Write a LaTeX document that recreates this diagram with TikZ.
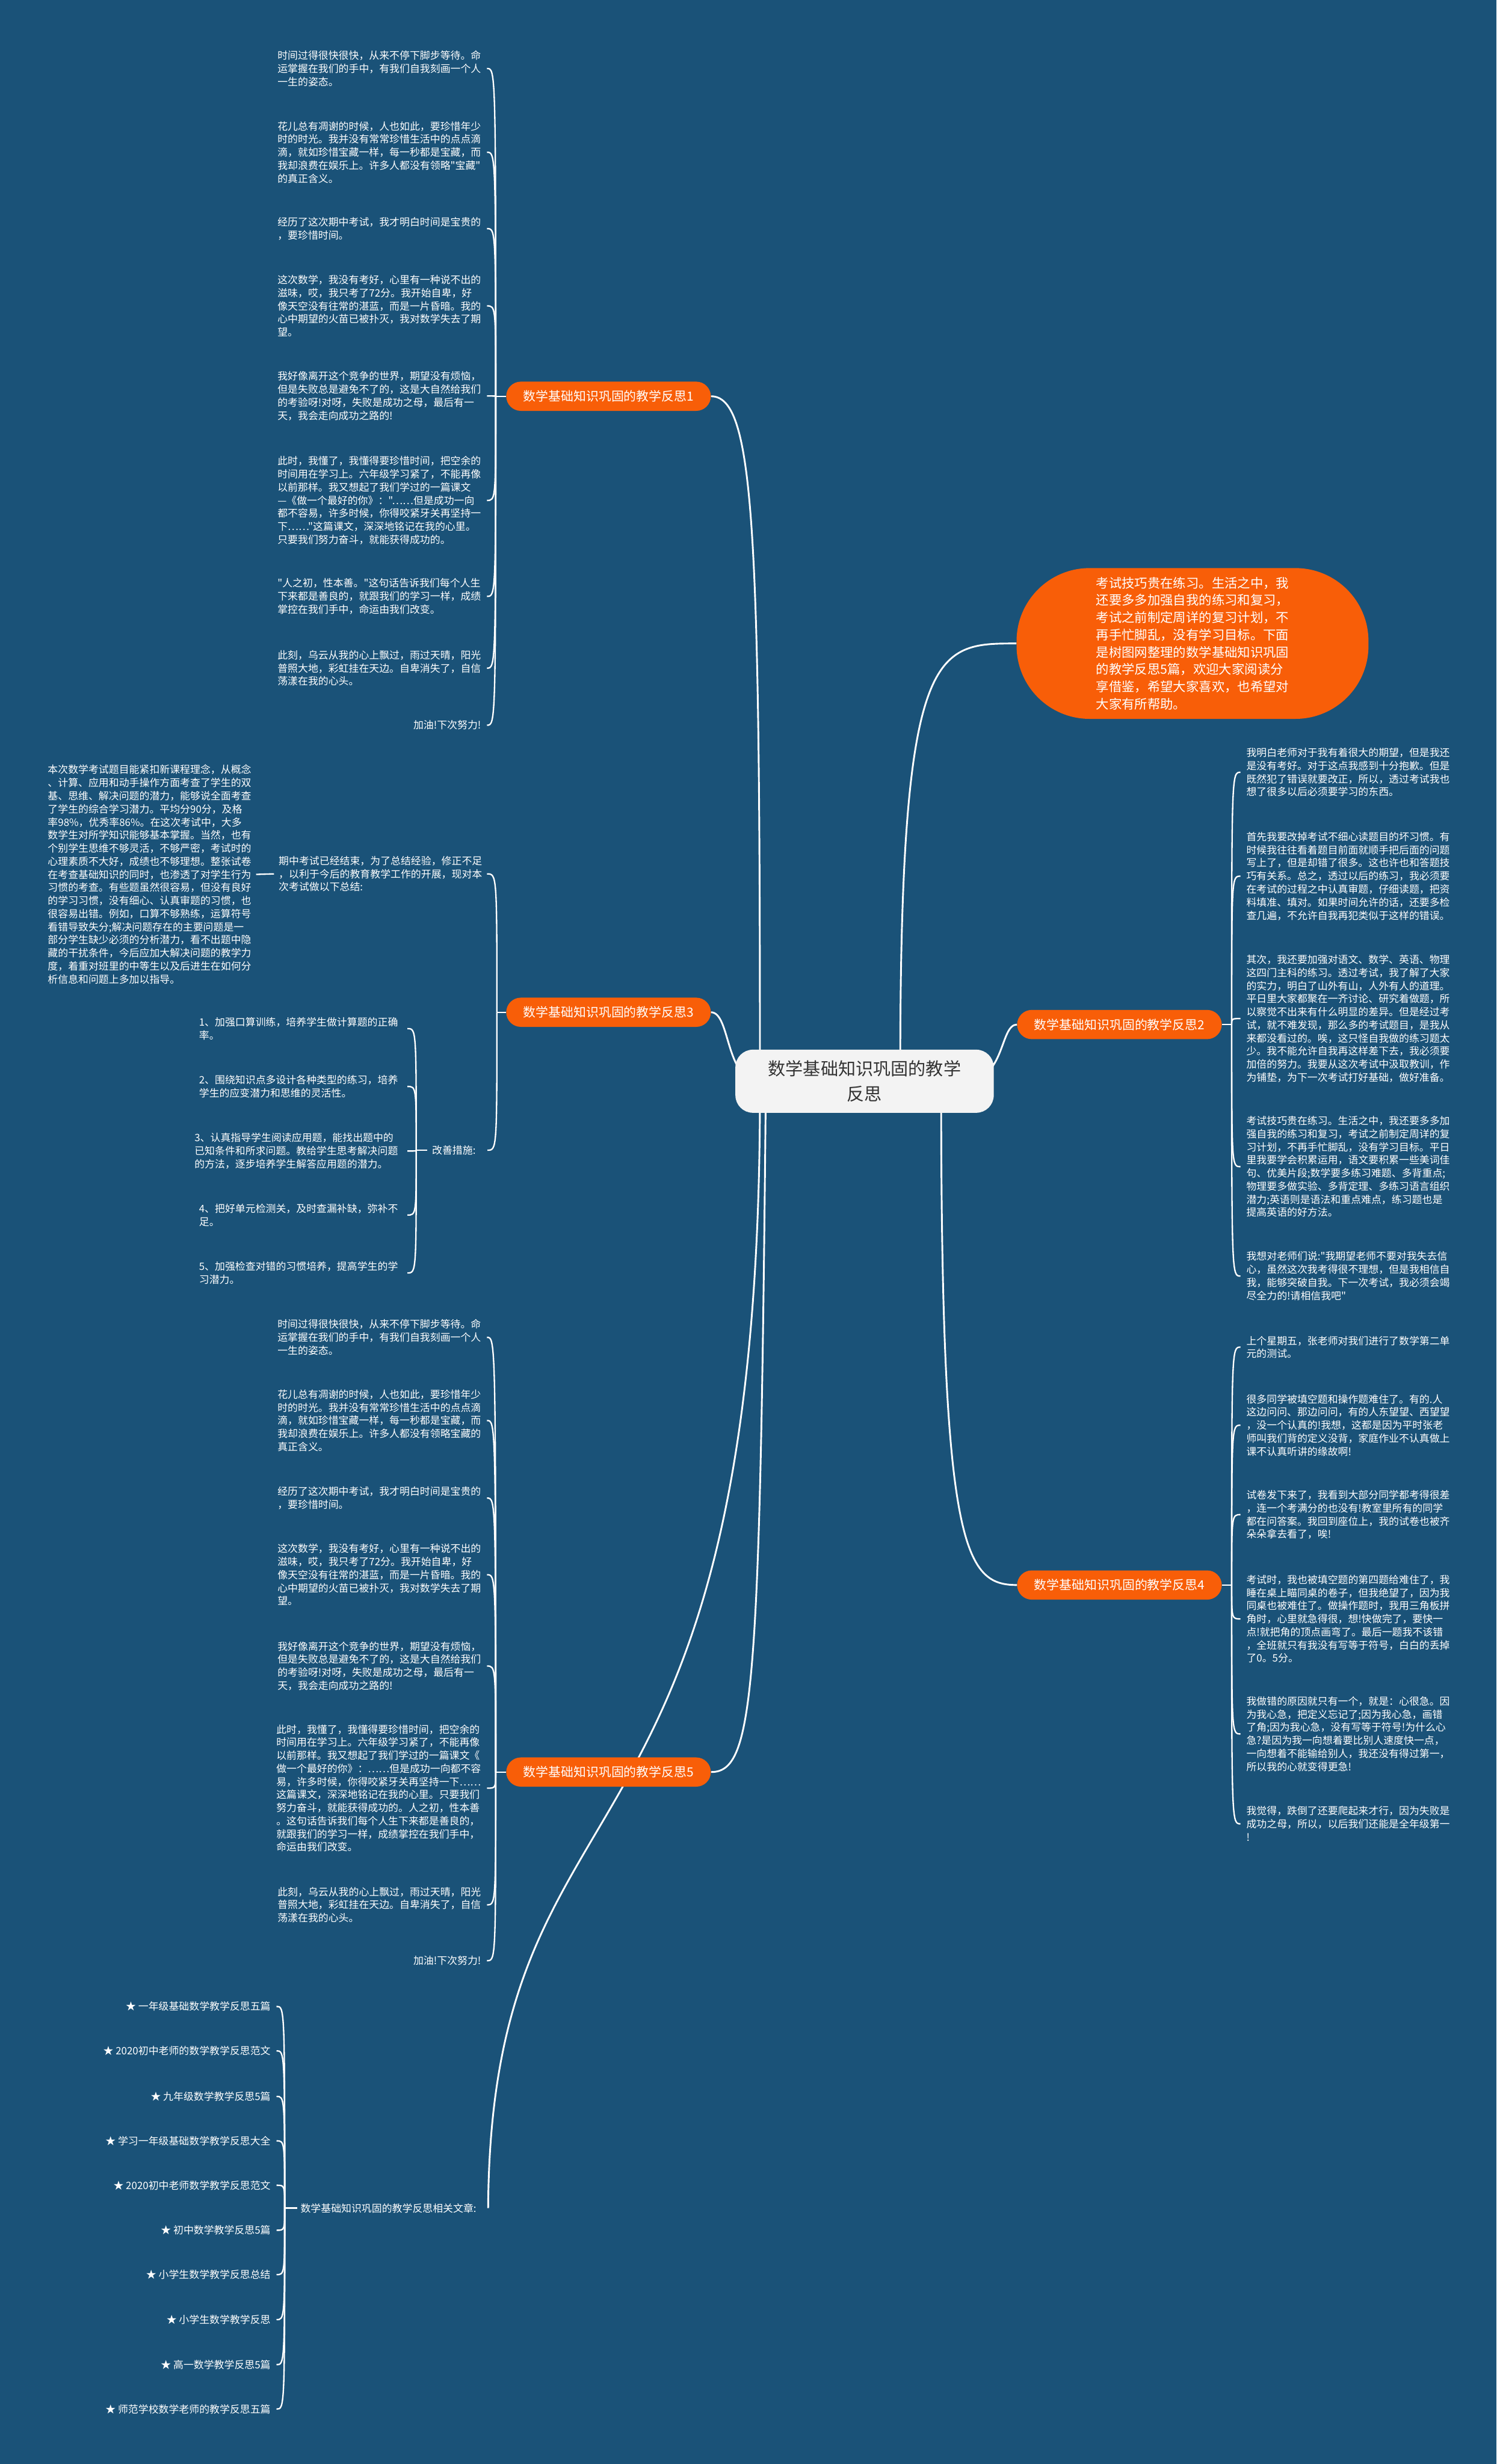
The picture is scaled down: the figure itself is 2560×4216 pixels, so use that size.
\documentclass[tikz,border=0pt]{standalone}
\usepackage{fontspec}
\newfontfamily\cjk{Noto Sans CJK SC}
\usetikzlibrary{calc}
\definecolor{bgblue}{RGB}{26,82,120}
\definecolor{orangeC}{RGB}{248,94,8}
\definecolor{centerfill}{RGB}{243,243,243}
\definecolor{centertext}{RGB}{51,51,51}
\pgfdeclarelayer{bg}
\pgfdeclarelayer{lines}
\pgfsetlayers{bg,lines,main}
\begin{document}
\begin{tikzpicture}[x=1pt,y=-1pt,
  leaf/.style={font=\cjk\fontsize{17.4}{22.4}\selectfont, text=white, align=left, inner sep=0pt},
  branch/.style={fill=orangeC, text=white, rounded corners=25pt, minimum width=350pt, minimum height=50pt, inner sep=0pt, font=\cjk\fontsize{21.5}{26}\selectfont},
  conn/.style={draw=white, line width=2.4pt},
  mainconn/.style={draw=white, line width=3pt},
]
\useasboundingbox (0,0) rectangle (2560,4216);
\begin{pgfonlayer}{bg}
\fill[bgblue] (0,0) rectangle (2560,4216);
\end{pgfonlayer}

% center and branches
\node[fill=centerfill, rounded corners=30pt, minimum width=442pt, minimum height=108pt, text=centertext, align=center, inner sep=0pt, font=\cjk\fontsize{30}{43}\selectfont] (c) at (1479,1850) {数学基础知识巩固的教学\\反思};
\node[fill=orangeC, rounded corners=125pt, minimum width=602pt, minimum height=258pt, text=white, align=left, inner sep=0pt, font=\cjk\fontsize{22}{29.6}\selectfont] (bub) at (2040,1101) {考试技巧贵在练习。生活之中，我\\还要多多加强自我的练习和复习，\\考试之前制定周详的复习计划，不\\再手忙脚乱，没有学习目标。下面\\是树图网整理的数学基础知识巩固\\的教学反思5篇，欢迎大家阅读分\\享借鉴，希望大家喜欢，也希望对\\大家有所帮助。};
\node[branch] (b1) at (1041,678) {数学基础知识巩固的教学反思1};
\node[branch] (b3) at (1041,1732) {数学基础知识巩固的教学反思3};
\node[branch] (b5) at (1041,3032) {数学基础知识巩固的教学反思5};
\node[branch] (b2) at (1915,1753) {数学基础知识巩固的教学反思2};
\node[branch] (b4) at (1915,2712) {数学基础知识巩固的教学反思4};

% branch 1 leaves
\node[leaf, anchor=north east] (b1a) at (823,86.5) {时间过得很快很快，从来不停下脚步等待。命\\运掌握在我们的手中，有我们自我刻画一个人\\一生的姿态。};
\node[leaf, anchor=north east] (b1b) at (823,207.5) {花儿总有凋谢的时候，人也如此，要珍惜年少\\时的时光。我并没有常常珍惜生活中的点点滴\\滴，就如珍惜宝藏一样，每一秒都是宝藏，而\\我却浪费在娱乐上。许多人都没有领略"宝藏"\\的真正含义。};
\node[leaf, anchor=north east] (b1c) at (823,371.5) {经历了这次期中考试，我才明白时间是宝贵的\\，要珍惜时间。};
\node[leaf, anchor=north east] (b1d) at (823,470.5) {这次数学，我没有考好，心里有一种说不出的\\滋味，哎，我只考了72分。我开始自卑，好\\像天空没有往常的湛蓝，而是一片昏暗。我的\\心中期望的火苗已被扑灭，我对数学失去了期\\望。};
\node[leaf, anchor=north east] (b1e) at (823,635.5) {我好像离开这个竞争的世界，期望没有烦恼，\\但是失败总是避免不了的，这是大自然给我们\\的考验呀!对呀，失败是成功之母，最后有一\\天，我会走向成功之路的!};
\node[leaf, anchor=north east] (b1f) at (823,780.5) {此时，我懂了，我懂得要珍惜时间，把空余的\\时间用在学习上。六年级学习紧了，不能再像\\以前那样。我又想起了我们学过的一篇课文\\—《做一个最好的你》："……但是成功一向\\都不容易，许多时候，你得咬紧牙关再坚持一\\下……"这篇课文，深深地铭记在我的心里。\\只要我们努力奋斗，就能获得成功的。};
\node[leaf, anchor=north east] (b1g) at (823,989.5) {"人之初，性本善。"这句话告诉我们每个人生\\下来都是善良的，就跟我们的学习一样，成绩\\掌控在我们手中，命运由我们改变。};
\node[leaf, anchor=north east] (b1h) at (823,1112.5) {此刻，乌云从我的心上飘过，雨过天晴，阳光\\普照大地，彩虹挂在天边。自卑消失了，自信\\荡漾在我的心头。};
\node[leaf, anchor=north east] (b1i) at (823,1232.5) {加油!下次努力!};

% branch 3
\node[leaf, anchor=north east] (qz) at (825,1464.5) {期中考试已经结束，为了总结经验，修正不足\\，以利于今后的教育教学工作的开展，现对本\\次考试做以下总结:};
\node[leaf, anchor=north east] (big) at (430,1308.5) {本次数学考试题目能紧扣新课程理念，从概念\\、计算、应用和动手操作方面考查了学生的双\\基、思维、解决问题的潜力，能够说全面考查\\了学生的综合学习潜力。平均分90分，及格\\率98\%，优秀率86\%。在这次考试中，大多\\数学生对所学知识能够基本掌握。当然，也有\\个别学生思维不够灵活，不够严密，考试时的\\心理素质不大好，成绩也不够理想。整张试卷\\在考查基础知识的同时，也渗透了对学生行为\\习惯的考查。有些题虽然很容易，但没有良好\\的学习习惯，没有细心、认真审题的习惯，也\\很容易出错。例如，口算不够熟练，运算符号\\看错导致失分;解决问题存在的主要问题是一\\部分学生缺少必须的分析潜力，看不出题中隐\\藏的干扰条件，今后应加大解决问题的教学力\\度，着重对班里的中等生以及后进生在如何分\\析信息和问题上多加以指导。};
\node[leaf, anchor=west] (gs) at (739,1968) {改善措施:};
\node[leaf, anchor=north east] (i1) at (681,1740.5) {1、加强口算训练，培养学生做计算题的正确\\率。};
\node[leaf, anchor=north east] (i2) at (681,1839.5) {2、围绕知识点多设计各种类型的练习，培养\\学生的应变潜力和思维的灵活性。};
\node[leaf, anchor=north east] (i3) at (681,1938.5) {3、认真指导学生阅读应用题，能找出题中的\\已知条件和所求问题。教给学生思考解决问题\\的方法，逐步培养学生解答应用题的潜力。};
\node[leaf, anchor=north east] (i4) at (681,2059.5) {4、把好单元检测关，及时查漏补缺，弥补不\\足。};
\node[leaf, anchor=north east] (i5) at (681,2158.5) {5、加强检查对错的习惯培养，提高学生的学\\习潜力。};

% branch 5 leaves
\node[leaf, anchor=north east] (b5a) at (823,2257.5) {时间过得很快很快，从来不停下脚步等待。命\\运掌握在我们的手中，有我们自我刻画一个人\\一生的姿态。};
\node[leaf, anchor=north east] (b5b) at (823,2377.5) {花儿总有凋谢的时候，人也如此，要珍惜年少\\时的时光。我并没有常常珍惜生活中的点点滴\\滴，就如珍惜宝藏一样，每一秒都是宝藏，而\\我却浪费在娱乐上。许多人都没有领略宝藏的\\真正含义。};
\node[leaf, anchor=north east] (b5c) at (823,2543.5) {经历了这次期中考试，我才明白时间是宝贵的\\，要珍惜时间。};
\node[leaf, anchor=north east] (b5d) at (823,2641.5) {这次数学，我没有考好，心里有一种说不出的\\滋味，哎，我只考了72分。我开始自卑，好\\像天空没有往常的湛蓝，而是一片昏暗。我的\\心中期望的火苗已被扑灭，我对数学失去了期\\望。};
\node[leaf, anchor=north east] (b5e) at (823,2808.5) {我好像离开这个竞争的世界，期望没有烦恼，\\但是失败总是避免不了的，这是大自然给我们\\的考验呀!对呀，失败是成功之母，最后有一\\天，我会走向成功之路的!};
\node[leaf, anchor=north east] (b5f) at (823,2950.5) {此时，我懂了，我懂得要珍惜时间，把空余的\\时间用在学习上。六年级学习紧了，不能再像\\以前那样。我又想起了我们学过的一篇课文《\\做一个最好的你》：……但是成功一向都不容\\易，许多时候，你得咬紧牙关再坚持一下……\\这篇课文，深深地铭记在我的心里。只要我们\\努力奋斗，就能获得成功的。人之初，性本善\\。这句话告诉我们每个人生下来都是善良的，\\就跟我们的学习一样，成绩掌控在我们手中，\\命运由我们改变。};
\node[leaf, anchor=north east] (b5g) at (823,3228.5) {此刻，乌云从我的心上飘过，雨过天晴，阳光\\普照大地，彩虹挂在天边。自卑消失了，自信\\荡漾在我的心头。};
\node[leaf, anchor=north east] (b5h) at (823,3346.5) {加油!下次努力!};

% related articles
\node[leaf, anchor=west] (rl) at (514,3778) {数学基础知识巩固的教学反思相关文章:};
\node[leaf, anchor=east] (r1) at (463,3433) {★ 一年级基础数学教学反思五篇};
\node[leaf, anchor=east] (r2) at (463,3509) {★ 2020初中老师的数学教学反思范文};
\node[leaf, anchor=east] (r3) at (463,3587) {★ 九年级数学教学反思5篇};
\node[leaf, anchor=east] (r4) at (463,3663) {★ 学习一年级基础数学教学反思大全};
\node[leaf, anchor=east] (r5) at (463,3739) {★ 2020初中老师数学教学反思范文};
\node[leaf, anchor=east] (r6) at (463,3816) {★ 初中数学教学反思5篇};
\node[leaf, anchor=east] (r7) at (463,3892) {★ 小学生数学教学反思总结};
\node[leaf, anchor=east] (r8) at (463,3969) {★ 小学生数学教学反思};
\node[leaf, anchor=east] (r9) at (463,4046) {★ 高一数学教学反思5篇};
\node[leaf, anchor=east] (r10) at (463,4122) {★ 师范学校数学老师的教学反思五篇};

% branch 2 leaves
\node[leaf, anchor=north west] (b2a) at (2132,1279.5) {我明白老师对于我有着很大的期望，但是我还\\是没有考好。对于这点我感到十分抱歉。但是\\既然犯了错误就要改正，所以，透过考试我也\\想了很多以后必须要学习的东西。};
\node[leaf, anchor=north west] (b2b) at (2132,1423.5) {首先我要改掉考试不细心读题目的坏习惯。有\\时候我往往看着题目前面就顺手把后面的问题\\写上了，但是却错了很多。这也许也和答题技\\巧有关系。总之，透过以后的练习，我必须要\\在考试的过程之中认真审题，仔细读题，把资\\料填准、填对。如果时间允许的话，还要多检\\查几遍，不允许自我再犯类似于这样的错误。};
\node[leaf, anchor=north west] (b2c) at (2132,1633.5) {其次，我还要加强对语文、数学、英语、物理\\这四门主科的练习。透过考试，我了解了大家\\的实力，明白了山外有山，人外有人的道理。\\平日里大家都聚在一齐讨论、研究着做题，所\\以察觉不出来有什么明显的差异。但是经过考\\试，就不难发现，那么多的考试题目，是我从\\来都没看过的。唉，这只怪自我做的练习题太\\少。我不能允许自我再这样差下去，我必须要\\加倍的努力。我要从这次考试中汲取教训，作\\为铺垫，为下一次考试打好基础，做好准备。};
\node[leaf, anchor=north west] (b2d) at (2132,1909.5) {考试技巧贵在练习。生活之中，我还要多多加\\强自我的练习和复习，考试之前制定周详的复\\习计划，不再手忙脚乱，没有学习目标。平日\\里我要学会积累运用，语文要积累一些美词佳\\句、优美片段;数学要多练习难题、多背重点;\\物理要多做实验、多背定理、多练习语言组织\\潜力;英语则是语法和重点难点，练习题也是\\提高英语的好方法。};
\node[leaf, anchor=north west] (b2e) at (2132,2141.5) {我想对老师们说:"我期望老师不要对我失去信\\心，虽然这次我考得很不理想，但是我相信自\\我，能够突破自我。下一次考试，我必须会竭\\尽全力的!请相信我吧"};

% branch 4 leaves
\node[leaf, anchor=north west] (b4a) at (2132,2285.5) {上个星期五，张老师对我们进行了数学第二单\\元的测试。};
\node[leaf, anchor=north west] (b4b) at (2132,2385.5) {很多同学被填空题和操作题难住了。有的.人\\这边问问、那边问问，有的人东望望、西望望\\，没一个认真的!我想，这都是因为平时张老\\师叫我们背的定义没背，家庭作业不认真做上\\课不认真听讲的缘故啊!};
\node[leaf, anchor=north west] (b4c) at (2132,2549.5) {试卷发下来了，我看到大部分同学都考得很差\\，连一个考满分的也没有!教室里所有的同学\\都在问答案。我回到座位上，我的试卷也被齐\\朵朵拿去看了，唉!};
\node[leaf, anchor=north west] (b4d) at (2132,2694.5) {考试时，我也被填空题的第四题给难住了，我\\睡在桌上瞄同桌的卷子，但我绝望了，因为我\\同桌也被难住了。做操作题时，我用三角板拼\\角时，心里就急得很，想!快做完了，要快一\\点!就把角的顶点画弯了。最后一题我不该错\\，全班就只有我没有写等于符号，白白的丢掉\\了0。5分。};
\node[leaf, anchor=north west] (b4e) at (2132,2902.5) {我做错的原因就只有一个，就是：心很急。因\\为我心急，把定义忘记了;因为我心急，画错\\了角;因为我心急，没有写等于符号!为什么心\\急?是因为我一向想着要比别人速度快一点，\\一向想着不能输给别人，我还没有得过第一，\\所以我的心就变得更急!};
\node[leaf, anchor=north west] (b4f) at (2132,3090.5) {我觉得，跌倒了还要爬起来才行，因为失败是\\成功之母，所以，以后我们还能是全年级第一\\!};

\begin{pgfonlayer}{lines}
% main connectors
\draw[mainconn] (1300,1830) .. controls (1300,900) and (1290,678) .. (b1.east);
\draw[mainconn] (1300,1850) .. controls (1240,1850) and (1250,1732) .. (b3.east);
\draw[mainconn] (1310,1870) .. controls (1300,2900) and (1290,3032) .. (b5.east);
\draw[mainconn] (1300,1870) .. controls (1300,3250) and (840,3000) .. ([xshift=20pt]rl.east);
\draw[mainconn] (1540,1830) .. controls (1540,1101) and (1600,1101) .. (bub.west);
\draw[mainconn] (1650,1850) .. controls (1720,1850) and (1710,1753) .. (b2.west);
\draw[mainconn] (1610,1870) .. controls (1610,2650) and (1650,2712) .. (b4.west);

% branch 1
\coordinate (j1) at (848,678);
\draw[conn] (b1.west) -- (j1);
\foreach \n in {b1a,b1b,b1c,b1d,b1e,b1f,b1g,b1h,b1i}
  \draw[conn] (j1) .. controls (j1 |- \n.east) and (j1 |- \n.east) .. ([xshift=10pt]\n.east);

% branch 5
\coordinate (j5) at (848,3032);
\draw[conn] (b5.west) -- (j5);
\foreach \n in {b5a,b5b,b5c,b5d,b5e,b5f,b5g,b5h}
  \draw[conn] (j5) .. controls (j5 |- \n.east) and (j5 |- \n.east) .. ([xshift=10pt]\n.east);

% branch 3
\coordinate (j3) at (850,1732);
\draw[conn] (b3.west) -- (j3);
\draw[conn] (j3) .. controls (j3 |- qz.east) and (j3 |- qz.east) .. ([xshift=8pt]qz.east);
\draw[conn] (j3) .. controls (j3 |- gs.east) and (j3 |- gs.east) .. ([xshift=20pt]gs.east);
\draw[conn] ([xshift=-8pt]qz.west) -- ([xshift=8pt]big.east);
\coordinate (jg) at (712,1968);
\draw[conn] ([xshift=-8pt]gs.west) -- (jg);
\foreach \n in {i1,i2,i3,i4,i5}
  \draw[conn] (jg) .. controls (jg |- \n.east) and (jg |- \n.east) .. ([xshift=16pt]\n.east);

% related
\coordinate (jr) at (487,3778);
\draw[conn] ([xshift=-6pt]rl.west) -- (jr);
\foreach \n in {r1,r2,r3,r4,r5,r6,r7,r8,r9,r10}
  \draw[conn] (jr) .. controls (jr |- \n.east) and (jr |- \n.east) .. ([xshift=10pt]\n.east);

% branch 2
\coordinate (j2) at (2107,1753);
\draw[conn] (b2.east) -- (j2);
\foreach \n in {b2a,b2b,b2c,b2d,b2e}
  \draw[conn] (j2) .. controls (j2 |- \n.west) and (j2 |- \n.west) .. ([xshift=-10pt]\n.west);

% branch 4
\coordinate (j4) at (2107,2712);
\draw[conn] (b4.east) -- (j4);
\foreach \n in {b4a,b4b,b4c,b4d,b4e,b4f}
  \draw[conn] (j4) .. controls (j4 |- \n.west) and (j4 |- \n.west) .. ([xshift=-10pt]\n.west);
\end{pgfonlayer}
\end{tikzpicture}
\end{document}
